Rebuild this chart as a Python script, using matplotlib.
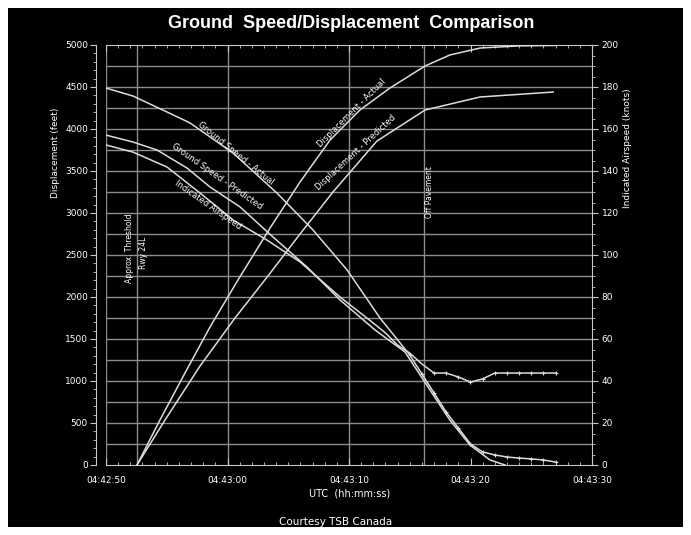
"""
Ground speed / displacement comparison (AF358, Toronto, runway 24L).
Time axis is seconds after 04:42:50 UTC.
"""

import matplotlib.pyplot as plt
from matplotlib.ticker import MultipleLocator

W, H = 691, 535

# displacement along runway (feet), left axis
disp_act_t = [2.55, 4.44, 6.5, 8.56, 10.86, 13.5, 15.97, 18.44, 20.9, 23.37, 26.26, 28.3, 30.8, 34.1, 37.0]
disp_act_ft = [0, 536, 1095, 1643, 2202, 2821, 3369, 3869, 4226, 4488, 4750, 4881, 4964, 4990, 4995]

disp_pred_t = [2.55, 4.86, 7.74, 10.62, 13.33, 15.97, 18.68, 22.3, 26.26, 30.78, 36.8]
disp_pred_ft = [0, 536, 1179, 1750, 2250, 2750, 3250, 3857, 4226, 4381, 4440]

# speeds (knots), right axis
gs_act_t = [0, 2.22, 5.02, 6.91, 10.45, 14.07, 17.04, 19.84, 22.55, 25, 26, 27, 28, 29, 30,
            31, 32, 33, 34, 35, 36, 37]
gs_act_kt = [179.5, 175.7, 168.1, 162.9, 148.6, 129.5, 111.9, 92.9, 70.0, 52.4, 43.3, 34.3, 25.2,
             17.6, 10.0, 6.2, 4.8, 3.8, 3.3, 2.9, 2.4, 1.4]

gs_pred_t = [0, 2.22, 4.2, 6.67, 8.56, 11.03, 13.74, 16.54, 19.26, 22.14, 24.61, 26.67, 28.3, 29.96, 31.6, 32.84]
gs_pred_kt = [157.1, 153.8, 150.0, 141.4, 132.4, 122.9, 108.6, 94.3, 78.6, 64.3, 53.8, 35.7, 21.4, 9.5, 2.4, 0.0]

ias_t = [0, 2.22, 5.02, 7.74, 10.45, 13.25, 15.97, 19.26, 22, 23, 24, 25, 26, 27, 28, 29, 30,
         31, 32, 33, 34, 35, 36, 37]
ias_kt = [152.4, 149.0, 141.9, 129.5, 116.7, 107.1, 96.7, 80.0, 67.6, 62.9, 57.1, 53.3, 48.1,
          43.8, 43.8, 41.9, 39.5, 41.0, 43.8, 43.8, 43.8, 43.8, 43.8, 43.8]

x_ticks = [0, 10, 20, 30, 40]
x_labels = ["04:42:50", "04:43:00", "04:43:10", "04:43:20", "04:43:30"]
threshold_t = 2.55
off_pavement_t = 26.17

GRID = "#8c8c8c"
LINE = "#dcdcdc"
TEXT = "white"


def px(x, y):
    """Pixel position in the picture -> figure fraction."""
    return x / W, 1 - y / H


fig = plt.figure(figsize=(W / 100, H / 100), dpi=100, facecolor="white")
fig.patches.append(plt.Rectangle((8 / W, 8 / H), 675 / W, 519 / H, transform=fig.transFigure,
                                 facecolor="black", edgecolor="none", zorder=-10))

ax = fig.add_axes([106 / W, 70 / H, 486 / W, 420 / H])
ax.set_facecolor("black")
ax.set_xlim(0, 40)
ax.set_ylim(0, 5000)

# grid
for y in range(250, 5000, 250):
    ax.axhline(y, color=GRID, lw=1.0, zorder=1)
for t in [0, 10, 20, threshold_t, off_pavement_t]:
    ax.axvline(t, color=GRID, lw=1.0, zorder=1)

ax.plot(disp_act_t, disp_act_ft, color=LINE, lw=1.1, zorder=3)
ax.plot(disp_pred_t, disp_pred_ft, color=LINE, lw=1.1, zorder=3)

ax2 = ax.twinx()
ax2.set_ylim(0, 200)
ax2.plot(gs_act_t, gs_act_kt, color=LINE, lw=1.1)
ax2.plot(gs_act_t[9:], gs_act_kt[9:], ls="none", marker="+", ms=3.5, mew=0.8, color=LINE)
ax2.plot(gs_pred_t, gs_pred_kt, color=LINE, lw=1.1)
ax2.plot(ias_t, ias_kt, color=LINE, lw=1.1)
ax2.plot(ias_t[13:], ias_kt[13:], ls="none", marker="+", ms=3.5, mew=0.8, color=LINE)

# spines and ticks
for side in ["top", "bottom"]:
    ax.spines[side].set_color("#c8c8c8")
ax.spines["right"].set_visible(False)
ax.spines["left"].set_position(("outward", 7))
ax.spines["left"].set_color("#c8c8c8")
for side in ["left", "top", "bottom"]:
    ax2.spines[side].set_visible(False)
ax2.spines["right"].set_color("#c8c8c8")

ax.set_xticks(x_ticks)
ax.set_xticklabels(x_labels)
ax.xaxis.set_minor_locator(MultipleLocator(1))
ax.tick_params(axis="x", which="both", direction="in", top=True, colors="#c8c8c8",
               labelcolor=TEXT, labelsize=6.5, pad=8)
ax.tick_params(axis="x", which="major", length=5)
ax.tick_params(axis="x", which="minor", length=2.5)

ax.set_yticks(range(0, 5001, 500))
ax.yaxis.set_minor_locator(MultipleLocator(100))
ax.tick_params(axis="y", which="both", direction="out", colors="#c8c8c8",
               labelcolor=TEXT, labelsize=6.5, pad=2)
ax.tick_params(axis="y", which="major", length=4)
ax.tick_params(axis="y", which="minor", length=2)

ax2.set_yticks(range(0, 201, 20))
ax2.yaxis.set_minor_locator(MultipleLocator(5))
ax2.tick_params(axis="y", which="both", direction="out", colors="#c8c8c8",
                labelcolor=TEXT, labelsize=6.5, pad=3)
ax2.tick_params(axis="y", which="major", length=4)
ax2.tick_params(axis="y", which="minor", length=2)

# texts
fig.text(*px(351, 23), "Ground  Speed/Displacement  Comparison", color=TEXT, fontsize=13,
         fontweight="bold", family="Liberation Sans", ha="center", va="center")
fig.text(*px(55, 153), "Displacement (feet)", color=TEXT, fontsize=6.5, rotation=90,
         ha="center", va="center")
fig.text(*px(627, 148), "Indicated Airspeed (knots)", color=TEXT, fontsize=6.5, rotation=90,
         ha="center", va="center")
fig.text(*px(350, 493), "UTC  (hh:mm:ss)", color=TEXT, fontsize=7, ha="center", va="center")
fig.text(*px(336, 522), "Courtesy TSB Canada", color=TEXT, fontsize=7.5, ha="center", va="center")

fig.text(*px(129, 248), "Approx. Threshold", color=TEXT, fontsize=5.5, rotation=90,
         ha="center", va="center")
fig.text(*px(143, 253), "Rwy 24L", color=TEXT, fontsize=5.5, rotation=90,
         ha="center", va="center")
fig.text(*px(430, 192), "Off Pavement", color=TEXT, fontsize=5.5, rotation=90,
         ha="center", va="center")

fig.text(*px(236, 153), "Ground Speed - Actual", color=TEXT, fontsize=6, rotation=-39,
         ha="center", va="center")
fig.text(*px(217, 176), "Ground Speed - Predicted", color=TEXT, fontsize=6, rotation=-35,
         ha="center", va="center")
fig.text(*px(208, 205), "Indicated Airspeed", color=TEXT, fontsize=6, rotation=-35,
         ha="center", va="center")
fig.text(*px(352, 113), "Displacement - Actual", color=TEXT, fontsize=6, rotation=45,
         ha="center", va="center")
fig.text(*px(356, 153), "Displacement - Predicted", color=TEXT, fontsize=6, rotation=43,
         ha="center", va="center")

fig.savefig("out.png", dpi=100, facecolor=fig.get_facecolor())
